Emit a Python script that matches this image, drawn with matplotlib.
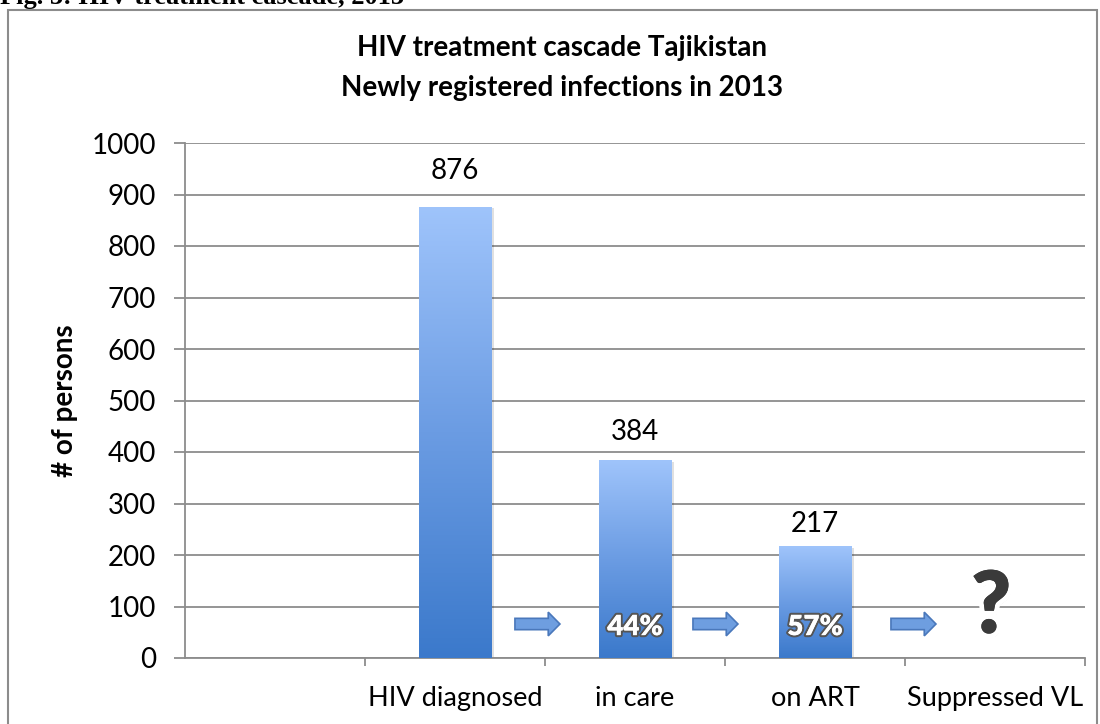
import numpy as np
import matplotlib.pyplot as plt
import matplotlib.patches as mpatches
import matplotlib.patheffects as pe
from matplotlib.colors import LinearSegmentedColormap

# data
categories = ['', 'HIV diagnosed', 'in care', 'on ART', 'Suppressed VL']
values = [0, 876, 384, 217, 0]
bar_idx = [1, 2, 3]
pct_labels = ['44%', '57%']
yticks = [0, 100, 200, 300, 400, 500, 600, 700, 800, 900, 1000]

plt.rcParams['font.family'] = ['Lato', 'DejaVu Sans']
fs = 20

fig = plt.figure(figsize=(11, 7.24), dpi=100)

# outer frame and cropped caption
fig.patches.append(mpatches.Rectangle((0.0075, -0.05), 0.99, 1.036,
                                      transform=fig.transFigure, fill=False,
                                      edgecolor='#8c8c8c', lw=1.5))
fig.text(0.0, 1 - 4/724, 'Fig. 3: HIV treatment cascade, 2013',
         family='Liberation Serif', weight='bold', fontsize=19,
         va='baseline', ha='left')

ax = fig.add_axes([185/1100, 1 - 658/724, 900/1100, 515/724])
ax.set_xlim(-0.5, len(categories) - 0.5)
ax.set_ylim(0, 1000)

gray = '#8c8c8c'
ax.set_yticks(yticks)
ax.yaxis.grid(True, color=gray, lw=1.3)
ax.set_axisbelow(True)
for s in ['top', 'right']:
    ax.spines[s].set_visible(False)
ax.spines['left'].set_color(gray)
ax.spines['bottom'].set_color(gray)
ax.spines['left'].set_linewidth(1.3)
ax.spines['bottom'].set_linewidth(1.3)
ax.tick_params(axis='y', length=8, color=gray, width=1.3, labelsize=fs, pad=13)
ax.set_xticks(np.arange(len(categories)) + 0.5, minor=False)
ax.set_xticklabels([])
ax.set_xticks(np.arange(len(categories)), minor=True)
ax.set_xticklabels(categories, minor=True)
ax.tick_params(axis='x', which='major', length=6, color=gray, width=1.3)
ax.tick_params(axis='x', which='minor', length=0, labelsize=19.5, pad=20)

# gradient bars
cmap = LinearSegmentedColormap.from_list('bl', ['#3b79cb', '#6b9ce3', '#9fc4fb'])
grad = np.linspace(0, 1, 256).reshape(-1, 1)
bw = 0.405
for i in bar_idx:
    v = values[i]
    shadow = mpatches.Rectangle((i - bw/2 + 0.012, 0), bw, v - 3,
                                facecolor='#000000', alpha=0.12, lw=0, zorder=2)
    ax.add_patch(shadow)
    rect = mpatches.Rectangle((i - bw/2, 0), bw, v, facecolor='none', lw=0, zorder=3)
    ax.add_patch(rect)
    im = ax.imshow(grad, cmap=cmap, origin='lower', aspect='auto',
                   extent=(i - bw/2, i + bw/2, 0, v), zorder=3)
    im.set_clip_path(rect)

# value labels
label_pad = {1: 36, 2: 28, 3: 22}
for i in bar_idx:
    ax.annotate(str(values[i]), (i, values[i]), xytext=(0, label_pad[i]),
                textcoords='offset pixels', ha='center', va='center',
                fontsize=fs, zorder=5)
ax.set_xlim(-0.5, len(categories) - 0.5)
ax.set_ylim(0, 1000)

# percentage labels inside bars
for i, t in zip(bar_idx[1:], pct_labels):
    ax.text(i, 60, t, ha='center', va='center', color='white', fontsize=fs,
            weight='heavy', zorder=6,
            path_effects=[pe.withStroke(linewidth=3, foreground='#555555'),
                          pe.Normal()])

# arrows between stages
arrow_x = [1.333, 2.322, 3.422]
for x0 in arrow_x:
    ax.add_patch(mpatches.FancyArrow(x0, 66, 0.25 - 0.065, 0, width=22,
                                     head_width=46, head_length=0.065,
                                     length_includes_head=False,
                                     facecolor='#6e9ee0', edgecolor='#4a78bb',
                                     lw=1.2, zorder=6, clip_on=False))

ax.text(3.978, 97, '?', ha='center', va='center', fontsize=62, weight='heavy',
        color='#3a3a3a', zorder=6,
        path_effects=[pe.withSimplePatchShadow(offset=(2, -2.5), shadow_rgbFace='#999999', alpha=0.8),
                      pe.withStroke(linewidth=7, foreground='white'),
                      pe.Normal()])

ax.set_ylabel('# of persons', fontsize=fs, weight='bold', va='center')
ax.yaxis.set_label_coords(-0.133, 0.5)
fig.text(562/1100, 1 - 48/724, 'HIV treatment cascade Tajikistan',
         ha='center', va='center', fontsize=fs, weight='bold')
fig.text(562/1100, 1 - 88/724, 'Newly registered infections in 2013',
         ha='center', va='center', fontsize=fs, weight='bold')

fig.savefig('out.png', dpi=100)
